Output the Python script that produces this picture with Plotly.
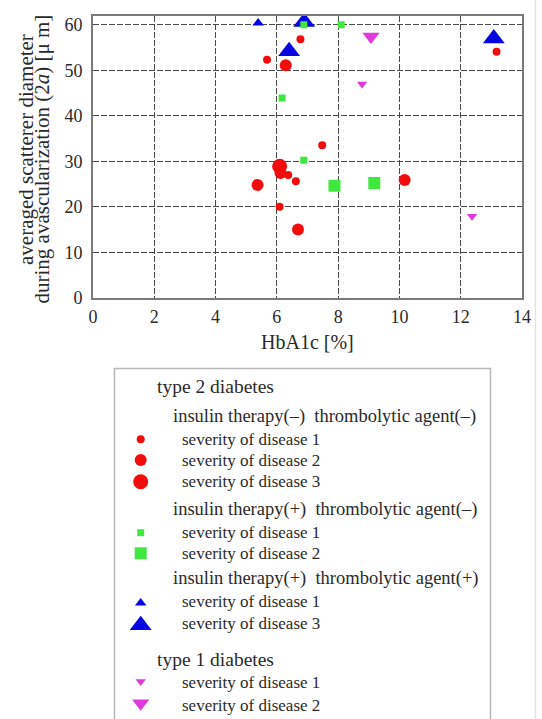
import plotly.graph_objects as go

# ---------------- data ----------------
# type 2 diabetes, insulin(-) thrombolytic(-)
red_s1_x = [5.68, 6.77, 7.48, 6.62, 6.09, 13.17, 6.37]
red_s1_y = [52.3, 56.8, 33.5, 25.6, 20.0, 54.1, 27.0]
red_s2_x = [5.37, 10.17, 6.69, 6.29, 6.12]
red_s2_y = [24.8, 25.9, 15.0, 51.1, 27.4]
red_s3_x = [6.09]
red_s3_y = [28.9]
# type 2 diabetes, insulin(+) thrombolytic(-)
green_s1_x = [6.17, 6.88, 8.10, 6.88]
green_s1_y = [43.9, 30.2, 60.0, 60.0]
green_s2_x = [7.88, 9.18]
green_s2_y = [24.6, 25.2]
# type 2 diabetes, insulin(+) thrombolytic(+)
blue_s1_x = [5.39]
blue_s1_y = [60.4]
blue_s3_x = [6.40, 6.89, 13.08]
blue_s3_y = [54.2, 60.6, 57.0]
# type 1 diabetes
mag_s1_x = [8.78, 12.37]
mag_s1_y = [47.0, 17.9]
mag_s2_x = [9.07]
mag_s2_y = [57.4]

x_ticks = [0, 2, 4, 6, 8, 10, 12, 14]
y_ticks = [0, 10, 20, 30, 40, 50, 60]

sev1 = "severity of disease 1"
sev2 = "severity of disease 2"
sev3 = "severity of disease 3"

# ---------------- styles ----------------
RED = "#f20d0d"
GREEN = "#3ee83e"
BLUE = "#0505e0"
MAG = "#de3ade"

series = [
    dict(x=red_s1_x, y=red_s1_y, sym="circle", size=8, color=RED, label=sev1),
    dict(x=red_s2_x, y=red_s2_y, sym="circle", size=12, color=RED, label=sev2),
    dict(x=red_s3_x, y=red_s3_y, sym="circle", size=15, color=RED, label=sev3),
    dict(x=blue_s1_x, y=blue_s1_y, sym="triangle-up", size=10, color=BLUE, label=sev1),
    dict(x=blue_s3_x, y=blue_s3_y, sym="triangle-up", size=19, color=BLUE, label=sev3),
    dict(x=green_s1_x, y=green_s1_y, sym="square", size=7, color=GREEN, label=sev1),
    dict(x=green_s2_x, y=green_s2_y, sym="square", size=12, color=GREEN, label=sev2),
    dict(x=mag_s1_x, y=mag_s1_y, sym="triangle-down", size=9, color=MAG, label=sev1),
    dict(x=mag_s2_x, y=mag_s2_y, sym="triangle-down", size=15, color=MAG, label=sev2),
]

W, H = 542, 719
FONT = "Liberation Serif"
TXT = "#2a2a2a"
LEG_TOP = 360


def px(xp):
    return xp / W


def py(yp):
    return 1 - yp / H


fig = go.Figure()
for s in series:
    fig.add_trace(go.Scatter(
        x=s["x"], y=s["y"], mode="markers", showlegend=False,
        marker=dict(symbol=s["sym"], size=s["size"], color=s["color"], line=dict(width=0)),
        xaxis="x", yaxis="y", hoverinfo="skip"))

# ---------------- legend (custom box on a pixel-scaled helper axis) ----------------
BOX_L, BOX_R, BOX_T = 114.5, 490.5, 368.5
fig.add_trace(go.Scatter(
    x=[BOX_L, BOX_L, BOX_R, BOX_R], y=[H + 20, BOX_T, BOX_T, H + 20], mode="lines",
    line=dict(color="#b8b8b8", width=1.5), showlegend=False, hoverinfo="skip",
    xaxis="x2", yaxis="y2"))

legend_rows = [
    ("head", "type 2 diabetes", 386.7),
    ("sub", "insulin therapy(–)  thrombolytic agent(–)", 416.0),
    ("item", 0, 439.3), ("item", 1, 460.0), ("item", 2, 481.7),
    ("sub", "insulin therapy(+)  thrombolytic agent(–)", 509.3),
    ("item", 5, 532.7), ("item", 6, 553.3),
    ("sub", "insulin therapy(+)  thrombolytic agent(+)", 578.3),
    ("item", 3, 601.7), ("item", 4, 623.0),
    ("head", "type 1 diabetes", 659.3),
    ("item", 7, 682.7), ("item", 8, 705.0),
]
X_HEAD, X_SUB, X_ITEM, X_MARK = 154.5, 171.0, 179.5, 140.7
SIZE = {"head": 19.5, "sub": 18.5, "item": 17}

annotations = []
for kind, val, ypix in legend_rows:
    if kind == "item":
        s = series[val]
        yoff = 0
        if s["sym"] == "triangle-up":
            yoff = s["size"] * 0.12
        elif s["sym"] == "triangle-down":
            yoff = -s["size"] * 0.12
        fig.add_trace(go.Scatter(
            x=[X_MARK], y=[ypix + yoff], mode="markers", showlegend=False,
            marker=dict(symbol=s["sym"], size=s["size"], color=s["color"], line=dict(width=0)),
            xaxis="x2", yaxis="y2", hoverinfo="skip", cliponaxis=False))
        text, xp = s["label"], X_ITEM
    else:
        text = val
        xp = X_HEAD if kind == "head" else X_SUB
    annotations.append(dict(
        x=px(xp), y=py(ypix), xref="paper", yref="paper", text=text, showarrow=False,
        xanchor="left", yanchor="middle", font=dict(family=FONT, size=SIZE[kind], color=TXT)))

# axis titles
annotations.append(dict(
    x=px(307.5), y=py(342.5), xref="paper", yref="paper", text="HbA1c [%]",
    showarrow=False, xanchor="center", yanchor="middle",
    font=dict(family=FONT, size=20, color=TXT)))
annotations.append(dict(
    x=px(26), y=py(150), xref="paper", yref="paper",
    text="averaged scatterer diameter",
    showarrow=False, xanchor="center", yanchor="middle", textangle=-90,
    font=dict(family=FONT, size=21, color=TXT)))
annotations.append(dict(
    x=px(41.5), y=py(159), xref="paper", yref="paper",
    text="during avascularization (2<i>a</i>) [μ m]",
    showarrow=False, xanchor="center", yanchor="middle", textangle=-90,
    font=dict(family=FONT, size=21, color=TXT)))

shapes = [
    dict(type="line", xref="paper", yref="paper", x0=px(535.5), x1=px(535.5), y0=0, y1=1,
         line=dict(color="#e2e2e2", width=1.5)),
]

fig.update_layout(
    template="none",
    width=W, height=H, margin=dict(l=0, r=0, t=0, b=0, autoexpand=False),
    paper_bgcolor="white", plot_bgcolor="rgba(0,0,0,0)", showlegend=False,
    font=dict(family=FONT, color=TXT),
    xaxis=dict(domain=[px(93), px(522)], range=[0, 14], tickvals=x_ticks, automargin=False,
               showgrid=True, gridcolor="#4a4a4a", gridwidth=1, griddash="6px,2px",
               showline=True, linecolor="#7a7a7a", linewidth=2, mirror=True,
               zeroline=False, ticks="outside", ticklen=2, tickcolor="rgba(0,0,0,0)",
               tickfont=dict(family=FONT, size=18, color=TXT), anchor="y"),
    yaxis=dict(domain=[py(297.7), py(15.7)], range=[0, 62], tickvals=y_ticks, automargin=False,
               showgrid=True, gridcolor="#4a4a4a", gridwidth=1, griddash="6px,2px",
               showline=True, linecolor="#7a7a7a", linewidth=2, mirror=True,
               zeroline=False, ticks="outside", ticklen=5, tickcolor="rgba(0,0,0,0)",
               tickfont=dict(family=FONT, size=18, color=TXT), anchor="x"),
    xaxis2=dict(domain=[0, 1], range=[0, W], visible=False, anchor="y2",
                fixedrange=True, automargin=False),
    yaxis2=dict(domain=[0, (H - LEG_TOP) / H], range=[H, LEG_TOP], visible=False, anchor="x2",
                fixedrange=True, automargin=False),
    annotations=annotations, shapes=shapes,
)

fig.write_html("out.html")
